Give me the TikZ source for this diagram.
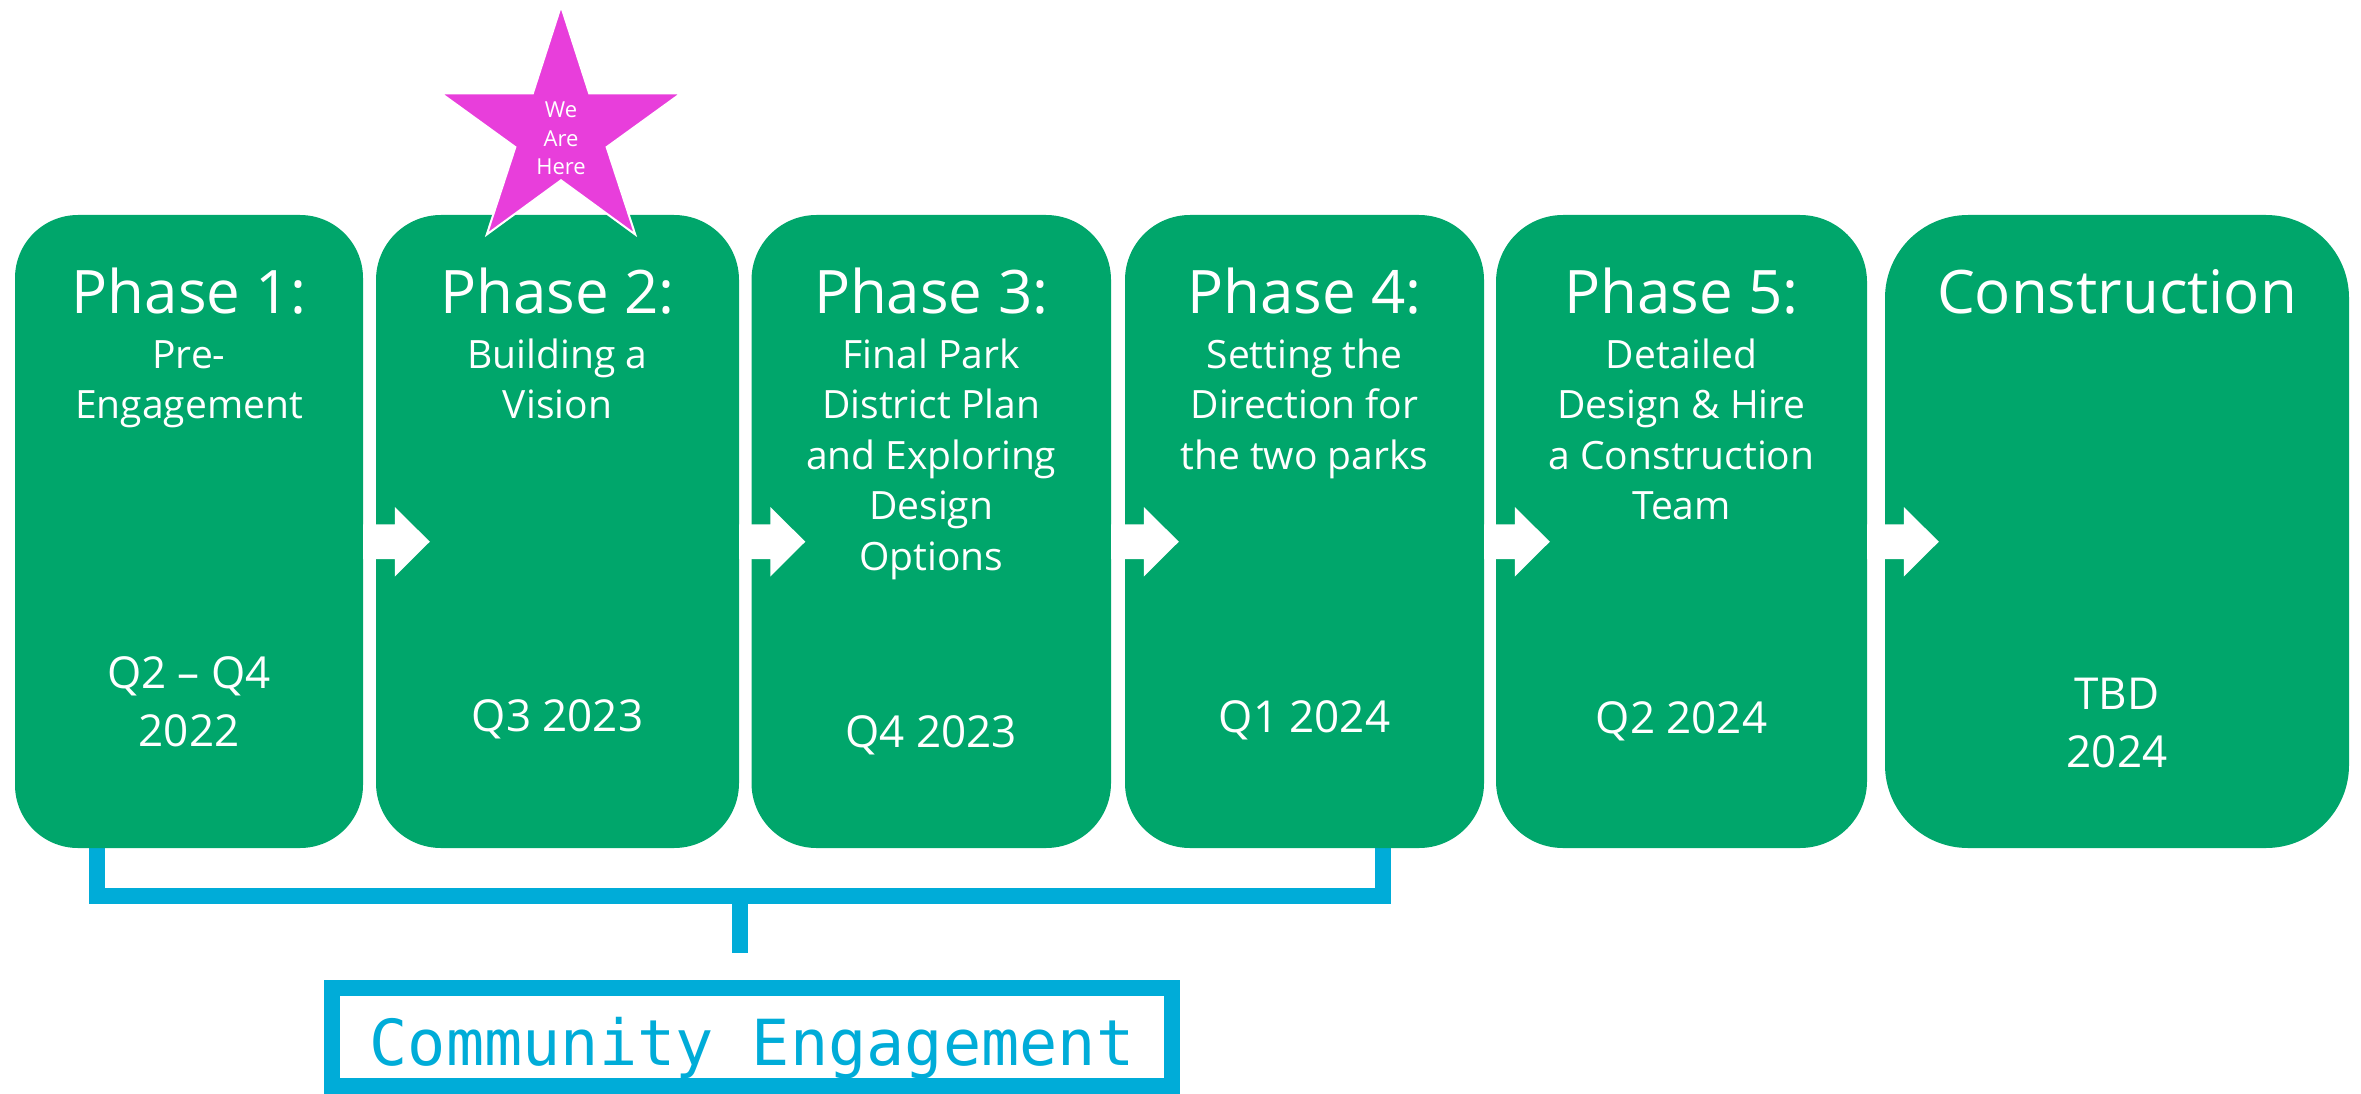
\documentclass[tikz,border=0pt]{standalone}
\usepackage{fontspec}
\setmainfont{Open Sans}
\newfontfamily\monof{DejaVu Sans Mono}
\usetikzlibrary{calc}
\definecolor{phgreen}{RGB}{0,166,107}
\definecolor{cecyan}{RGB}{0,172,216}
\definecolor{starmag}{RGB}{232,62,219}
\newcommand\stacklines[1]{\vtop{\halign{\hfil##\hfil\cr#1\crcr}}}
\newcommand\phasearrow[2]{%
  \fill[white] ($(#1.east)+(0,-7.2)$) -- ($(#2.west)+(19,-7.2)$) -- ($(#2.west)+(19,-24.5)$)
    -- ($(#2.west)+(54,10.2)$) -- ($(#2.west)+(19,45)$) -- ($(#2.west)+(19,27.6)$)
    -- ($(#1.east)+(0,27.6)$) -- cycle;}
\tikzset{
  phbox/.style={fill=phgreen, draw=none, minimum height=633pt, inner sep=0pt},
  ttl/.style={anchor=base, text=white, inner sep=0pt, font=\fontsize{60}{72}\selectfont},
  sub/.style={anchor=base, text=white, inner sep=0pt, font=\fontsize{39}{50.5}\selectfont},
  dat/.style={anchor=base, text=white, inner sep=0pt, font=\fontsize{44}{58}\selectfont},
  bracket/.style={draw=cecyan, line width=16pt, line cap=butt, line join=miter},
  cebox/.style={draw=cecyan, line width=16pt, fill=white, minimum width=840pt, minimum height=98pt,
    inner sep=0pt, text=cecyan, font=\monof\fontsize{63.5}{70}\selectfont, text height=56pt, text depth=0pt},
  startext/.style={anchor=base, text=white, inner sep=0pt, font=\fontsize{22}{28.5}\selectfont}
}
\begin{document}
\begin{tikzpicture}[x=1pt,y=-1pt]
\useasboundingbox (0,0) rectangle (2361,1094);
% bracket behind the boxes
\coordinate (bl) at (97,840);
\coordinate (br) at (1382.5,840);
\coordinate (bmid) at (740,896);
\coordinate (stemend) at (740,953);
\draw[bracket] (bl) |- (bmid) -| (br);
\draw[bracket] ($(bmid)+(0,-8)$) -- (stemend);
% phase boxes
\node[phbox, minimum width=348pt, rounded corners=63pt] (b1) at (189,531.5) {};
\node[phbox, minimum width=363pt, rounded corners=65pt] (b2) at (557.5,531.5) {};
\node[phbox, minimum width=359.5pt, rounded corners=65pt] (b3) at (931.25,531.5) {};
\node[phbox, minimum width=359pt, rounded corners=65pt] (b4) at (1304.5,531.5) {};
\node[phbox, minimum width=371pt, rounded corners=67pt] (b5) at (1681.5,531.5) {};
\node[phbox, minimum width=464pt, rounded corners=83pt] (b6) at (2117,531.5) {};
% arrows
\phasearrow{b1}{b2}
\phasearrow{b2}{b3}
\phasearrow{b3}{b4}
\phasearrow{b4}{b5}
\phasearrow{b5}{b6}
% titles
\node[ttl] (t1) at (189,313) {Phase 1:};
\node[ttl] (t2) at (557.5,313) {Phase 2:};
\node[ttl] (t3) at (931.25,313) {Phase 3:};
\node[ttl] (t4) at (1304.5,313) {Phase 4:};
\node[ttl] (t5) at (1681.5,313) {Phase 5:};
\node[ttl] (t6) at (2117,313) {Construction};
% descriptions
\node[sub] (s1) at (189,368) {\stacklines{Pre-\cr Engagement}};
\node[sub] (s2) at (557.5,368) {\stacklines{Building a\cr Vision}};
\node[sub] (s3) at (931.25,368) {\stacklines{Final Park\cr District Plan\cr and Exploring\cr Design\cr Options}};
\node[sub] (s4) at (1304.5,368) {\stacklines{Setting the\cr Direction for\cr the two parks}};
\node[sub] (s5) at (1681.5,368) {\stacklines{Detailed\cr Design \& Hire\cr a Construction\cr Team}};
% dates
\node[dat] (d1) at (189,688) {\stacklines{Q2 – Q4\cr 2022}};
\node[dat] (d2) at (557.5,731) {Q3 2023};
\node[dat] (d3) at (931.25,747) {Q4 2023};
\node[dat] (d4) at (1304.5,732) {Q1 2024};
\node[dat] (d5) at (1681.5,733) {Q2 2024};
\node[dat] (d6) at (2117,709) {\stacklines{TBD\cr 2024}};
% star
\coordinate (sc) at (561,132.3);
\fill[starmag, draw=white, line width=2pt, line join=miter]
  ($(sc)+(-90:126.3)$) -- ($(sc)+(-54:48)$) -- ($(sc)+(-18:126.3)$) -- ($(sc)+(18:48)$)
  -- ($(sc)+(54:126.3)$) -- ($(sc)+(90:48)$) -- ($(sc)+(126:126.3)$) -- ($(sc)+(162:48)$)
  -- ($(sc)+(198:126.3)$) -- ($(sc)+(234:48)$) -- cycle;
\node[startext] (here) at (561,118) {\stacklines{We\cr Are\cr Here}};
% community engagement
\node[cebox] (ce) at (752,1037) {Community Engagement};
\end{tikzpicture}
\end{document}
